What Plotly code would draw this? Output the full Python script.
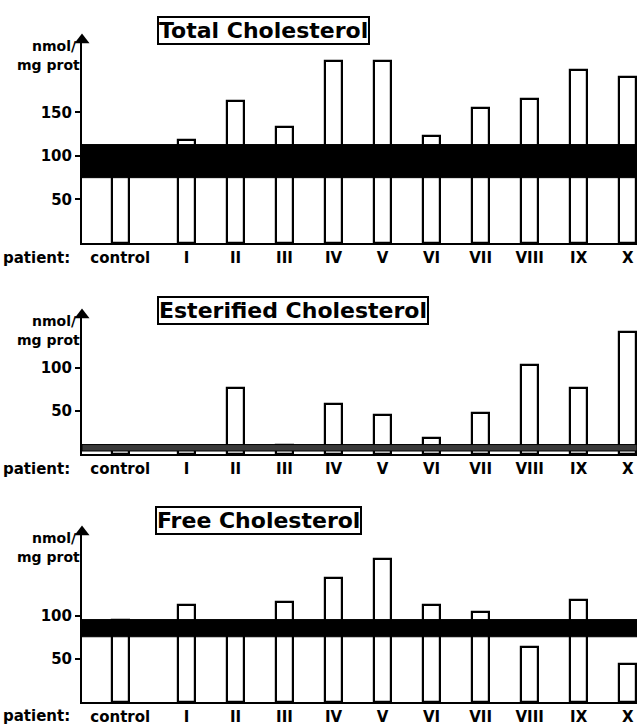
import plotly.graph_objects as go

# ---------------- data ----------------
categories = ["control", "I", "II", "III", "IV", "V", "VI", "VII", "VIII", "IX", "X"]
total_chol = [103, 118, 163, 133, 209, 209, 123, 155, 165, 199, 191]
ester_chol = [8, 5, 77, 10, 58, 45, 19, 48, 104, 77, 142]
free_chol = [95, 113, 85, 116, 144, 166, 113, 105, 64, 119, 44]
total_normal = [75, 113]
ester_normal = [3.5, 11]
free_normal = [76, 96]
titles = ["Total Cholesterol", "Esterified Cholesterol", "Free Cholesterol"]
ytick_sets = [[50, 100, 150], [50, 100], [50, 100]]

# ---------------- layout helpers ----------------
W, H = 637, 727
CONTROL_POS = -0.35
positions = [CONTROL_POS] + list(range(1, len(categories)))
X_RANGE = [-1.13, 10.19]
BAR_W = 0.35
FONT = "DejaVu Sans"

panels = [
    dict(vals=total_chol, band=total_normal, top=233, y0px=243, y1px=40,
         box=(157, 16), laby=258, band_color="black"),
    dict(vals=ester_chol, band=ester_normal, top=162, y0px=454, y1px=315,
         box=(157, 296), laby=469, band_color="#3a3a3a"),
    dict(vals=free_chol, band=free_normal, top=198, y0px=702, y1px=532,
         box=(155, 506), laby=716, band_color="black"),
]

fig = go.Figure()
x_dom = [82 / W, 1.0]
bold = lambda s: "<b>" + s + "</b>"

for i, p in enumerate(panels):
    n = "" if i == 0 else str(i + 1)
    xa, ya = "x" + n, "y" + n
    fig.add_trace(go.Bar(
        x=positions, y=p["vals"], width=BAR_W, xaxis=xa, yaxis=ya,
        marker=dict(color="white", line=dict(color="black", width=2.2)),
        showlegend=False, hoverinfo="x+y",
    ))
    fig.add_trace(go.Scatter(
        x=[X_RANGE[0]], y=[p["top"]], xaxis=xa, yaxis=ya, mode="markers",
        marker=dict(symbol="triangle-up", size=13, color="black"),
        cliponaxis=False, showlegend=False, hoverinfo="skip",
    ))
    fig.add_shape(type="rect", xref=xa, yref=ya, x0=X_RANGE[0], x1=X_RANGE[1],
                  y0=p["band"][0], y1=p["band"][1], fillcolor=p["band_color"],
                  line=dict(color="black", width=1), layer="above")
    dom_y = [1 - p["y0px"] / H, 1 - p["y1px"] / H]
    fig.update_layout(**{
        "xaxis" + n: dict(domain=x_dom, range=X_RANGE, anchor=ya, showline=True,
                          linecolor="black", linewidth=2, ticks="", showgrid=False,
                          zeroline=False, tickvals=positions,
                          ticktext=[bold(c) for c in categories],
                          tickfont=dict(family=FONT, size=15, color="black")),
        "yaxis" + n: dict(domain=dom_y, range=[0, p["top"]], anchor=xa, showline=True,
                          linecolor="black", linewidth=2, ticks="outside", ticklen=5,
                          tickwidth=2, tickcolor="black", showgrid=False, zeroline=False,
                          tickvals=ytick_sets[i],
                          ticktext=[bold(str(v)) for v in ytick_sets[i]],
                          tickfont=dict(family=FONT, size=15, color="black")),
    })
    fig.add_annotation(xref="paper", yref="paper", x=p["box"][0] / W, y=1 - p["box"][1] / H,
                       xanchor="left", yanchor="top", text=bold(titles[i]), showarrow=False,
                       font=dict(family=FONT, size=22, color="black"),
                       bordercolor="black", borderwidth=2, borderpad=0, bgcolor="white")
    fig.add_annotation(xref="paper", yref="paper", x=79 / W, y=1 - (p["y1px"] + 6) / H,
                       xanchor="right", yanchor="middle", text=bold("nmol/"), showarrow=False,
                       font=dict(family=FONT, size=14, color="black"))
    fig.add_annotation(xref="paper", yref="paper", x=82 / W, y=1 - (p["y1px"] + 25) / H,
                       xanchor="right", yanchor="middle", text=bold("mg prot"), showarrow=False,
                       font=dict(family=FONT, size=14, color="black"))
    fig.add_annotation(xref="paper", yref="paper", x=1 / W, y=1 - p["laby"] / H,
                       xanchor="left", yanchor="middle", text=bold("patient:"), showarrow=False,
                       font=dict(family=FONT, size=15, color="black"))

fig.update_layout(
    width=W, height=H, margin=dict(l=0, r=0, t=0, b=0),
    paper_bgcolor="white", plot_bgcolor="white",
    font=dict(family=FONT, color="black"), showlegend=False, bargap=0,
)

fig.write_html("out.html", config={"displayModeBar": False},
               post_script="document.body.style.margin='0';")
